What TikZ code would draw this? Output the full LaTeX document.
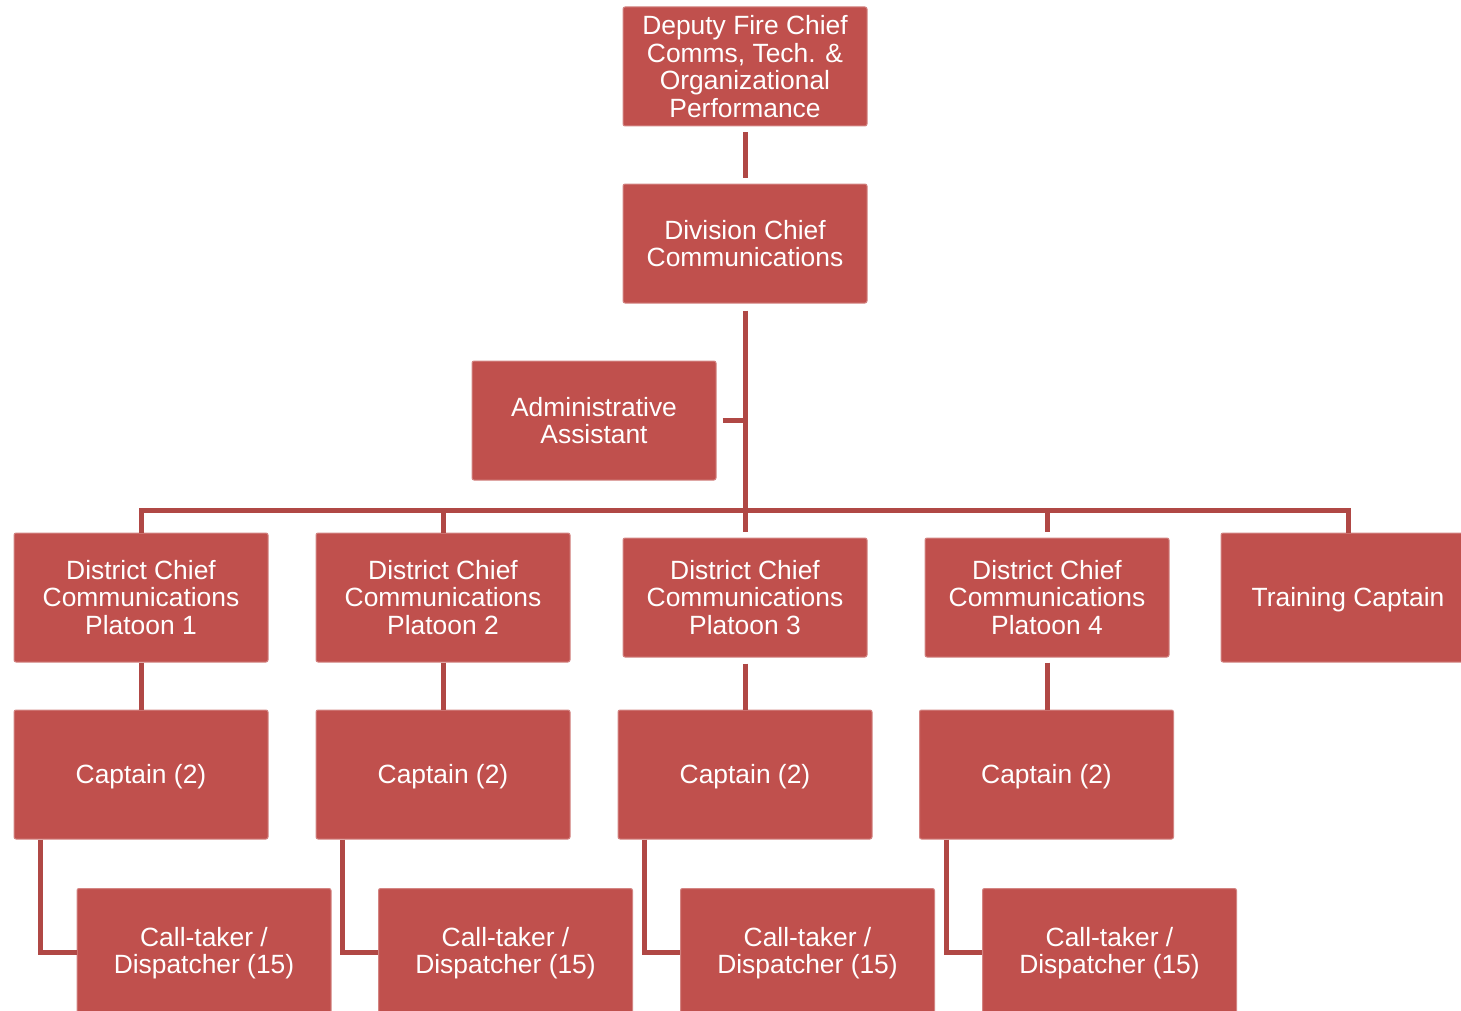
\documentclass[tikz,border=0pt]{standalone}
\usepackage{fontspec}
\setmainfont{Liberation Sans}
\definecolor{boxred}{HTML}{C0504D}
\definecolor{linkred}{RGB}{176,72,69}
\newcommand{\lowered}[1]{\raisebox{-1pt}[\height][\depth]{#1}}
\begin{document}
\begin{tikzpicture}[x=0.5pt,y=-0.5pt,
  box/.style={fill=boxred, draw=boxred!70!white, line width=0.5pt,
    rounded corners=1pt, text=white, inner sep=0pt, align=center,
    font=\fontsize{13.2}{13.8}\selectfont},
  wide/.style={box, minimum width=127pt, minimum height=64.5pt},
  mid/.style={box, minimum width=122pt, minimum height=59.5pt},
  link/.style={draw=linkred, line width=2.5pt}]
\useasboundingbox (0,0) rectangle (1461,1011);

% top of the chain
\node[mid] (dep) at (745,66.5) {Deputy Fire Chief\\Comms, Tech. \&\\Organizational\\Performance};
\node[mid] (div) at (745,243.5) {Division Chief\\Communications};
\node[mid] (adm) at (594,420.5) {Administrative\\Assistant};

% district chiefs and training
\node[wide] (dc1) at (141,597.5) {District Chief\\Communications\\Platoon 1};
\node[wide] (dc2) at (443,597.5) {District Chief\\Communications\\Platoon 2};
\node[mid]  (dc3) at (745,597.5) {District Chief\\Communications\\Platoon 3};
\node[mid]  (dc4) at (1047,597.5) {District Chief\\Communications\\Platoon 4};
\node[wide] (tc)  at (1348,597.5) {\lowered{Training Captain}};

% captains
\node[wide] (cap1) at (141,774.5) {\lowered{Captain (2)}};
\node[wide] (cap2) at (443,774.5) {\lowered{Captain (2)}};
\node[wide] (cap3) at (745,774.5) {\lowered{Captain (2)}};
\node[wide] (cap4) at (1046.5,774.5) {\lowered{Captain (2)}};

% call-takers
\node[wide] (ct1) at (204,953) {Call-taker /\\Dispatcher (15)};
\node[wide] (ct2) at (505.5,953) {Call-taker /\\Dispatcher (15)};
\node[wide] (ct3) at (807.5,953) {Call-taker /\\Dispatcher (15)};
\node[wide] (ct4) at (1109.5,953) {Call-taker /\\Dispatcher (15)};

\coordinate (bus) at (745,510);

% reporting lines
\draw[link, shorten <=3pt, shorten >=3pt] (dep.south) -- (div.north);
\draw[link, shorten <=3.5pt, shorten >=3pt] (div.south) -- (dc3.north);
\draw[link, shorten <=3pt] (adm.east) -- (adm.east -| div.south);
\draw[link] (dc1.north) |- (tc.north |- bus) -- (tc.north);
\draw[link] (dc2.north) -- (dc2.north |- bus);
\draw[link, shorten <=3pt] (dc4.north) -- (dc4.north |- bus);

\draw[link] (dc1.south) -- (cap1.north);
\draw[link] (dc2.south) -- (cap2.north);
\draw[link, shorten <=3pt] (dc3.south) -- (cap3.north);
\draw[link, shorten <=2.5pt] (dc4.south) -- (dc4.south |- cap4.north);

\foreach \i in {1,2,3,4}
  \draw[link] ([xshift=13.5pt]cap\i.south west) |- ([yshift=0.5pt]ct\i.west);
\end{tikzpicture}
\end{document}
